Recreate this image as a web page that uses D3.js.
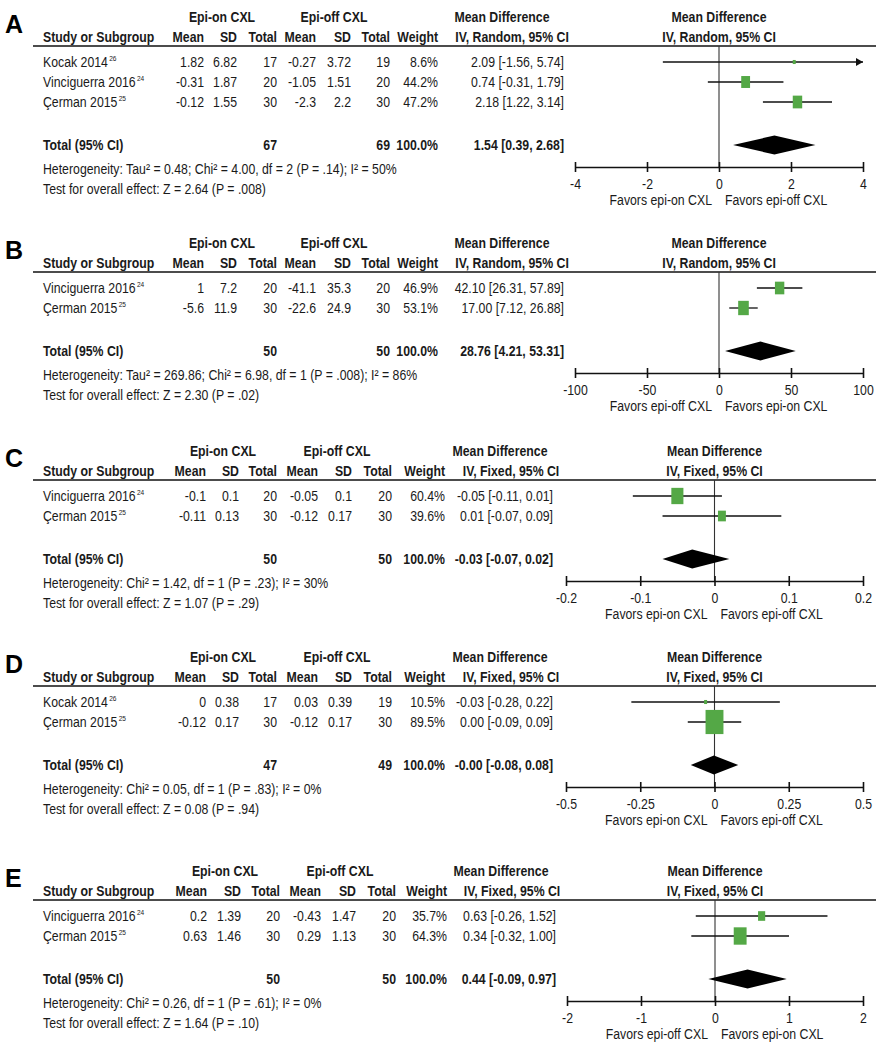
<!DOCTYPE html>
<html><head><meta charset="utf-8">
<script src="https://cdn.jsdelivr.net/npm/d3@7"></script>
<style>
body{margin:0;background:#fff}
svg text{font-family:"Liberation Sans",Arial,sans-serif;font-size:15px;fill:#1a1a1a}
svg text.letter{font-family:"Liberation Sans",Arial,sans-serif;font-size:25px;font-weight:bold;fill:#000}
</style></head><body><svg id="c" width="880" height="1050"></svg>
<script>
// ---------- DATA ----------
const panelLetters = ["A","B","C","D","E"];
const models = ["IV, Random, 95% CI","IV, Random, 95% CI","IV, Fixed, 95% CI","IV, Fixed, 95% CI","IV, Fixed, 95% CI"];

// Panel A
const studiesA = ["Kocak 2014","Vinciguerra 2016","Çerman 2015"];
const refsA = ["26","24","25"];
const onMeanA = [1.82,-0.31,-0.12], onSDA = [6.82,1.87,1.55], onNA = [17,20,30];
const offMeanA = [-0.27,-1.05,-2.3], offSDA = [3.72,1.51,2.2], offNA = [19,20,30];
const weightA = [8.6,44.2,47.2];
const mdA = [2.09,0.74,2.18], loA = [-1.56,-0.31,1.22], hiA = [5.74,1.79,3.14];
const totalA = [67,69,1.54,0.39,2.68];
const hetA = "Heterogeneity: Tau² = 0.48; Chi² = 4.00, df = 2 (P = .14); I² = 50%";
const testA = "Test for overall effect: Z = 2.64 (P = .008)";
const ticksA = [-4,-2,0,2,4];
const favorsA = ["Favors epi-on CXL","Favors epi-off CXL"];

// Panel B
const studiesB = ["Vinciguerra 2016","Çerman 2015"];
const refsB = ["24","25"];
const onMeanB = [1,-5.6], onSDB = [7.2,11.9], onNB = [20,30];
const offMeanB = [-41.1,-22.6], offSDB = [35.3,24.9], offNB = [20,30];
const weightB = [46.9,53.1];
const mdB = [42.10,17.00], loB = [26.31,7.12], hiB = [57.89,26.88];
const totalB = [50,50,28.76,4.21,53.31];
const hetB = "Heterogeneity: Tau² = 269.86; Chi² = 6.98, df = 1 (P = .008); I² = 86%";
const testB = "Test for overall effect: Z = 2.30 (P = .02)";
const ticksB = [-100,-50,0,50,100];
const favorsB = ["Favors epi-off CXL","Favors epi-on CXL"];

// Panel C
const studiesC = ["Vinciguerra 2016","Çerman 2015"];
const refsC = ["24","25"];
const onMeanC = [-0.1,-0.11], onSDC = [0.1,0.13], onNC = [20,30];
const offMeanC = [-0.05,-0.12], offSDC = [0.1,0.17], offNC = [20,30];
const weightC = [60.4,39.6];
const mdC = [-0.05,0.01], loC = [-0.11,-0.07], hiC = [0.01,0.09];
const totalC = [50,50,-0.03,-0.07,0.02];
const hetC = "Heterogeneity: Chi² = 1.42, df = 1 (P = .23); I² = 30%";
const testC = "Test for overall effect: Z = 1.07 (P = .29)";
const ticksC = [-0.2,-0.1,0,0.1,0.2];
const favorsC = ["Favors epi-on CXL","Favors epi-off CXL"];

// Panel D
const studiesD = ["Kocak 2014","Çerman 2015"];
const refsD = ["26","25"];
const onMeanD = [0,-0.12], onSDD = [0.38,0.17], onND = [17,30];
const offMeanD = [0.03,-0.12], offSDD = [0.39,0.17], offND = [19,30];
const weightD = [10.5,89.5];
const mdD = [-0.03,0.00], loD = [-0.28,-0.09], hiD = [0.22,0.09];
const totalD = [47,49,-0.002,-0.08,0.08]; // printed as -0.00
const hetD = "Heterogeneity: Chi² = 0.05, df = 1 (P = .83); I² = 0%";
const testD = "Test for overall effect: Z = 0.08 (P = .94)";
const ticksD = [-0.5,-0.25,0,0.25,0.5];
const favorsD = ["Favors epi-on CXL","Favors epi-off CXL"];

// Panel E
const studiesE = ["Vinciguerra 2016","Çerman 2015"];
const refsE = ["24","25"];
const onMeanE = [0.2,0.63], onSDE = [1.39,1.46], onNE = [20,30];
const offMeanE = [-0.43,0.29], offSDE = [1.47,1.13], offNE = [20,30];
const weightE = [35.7,64.3];
const mdE = [0.63,0.34], loE = [-0.26,-0.32], hiE = [1.52,1.00];
const totalE = [50,50,0.44,-0.09,0.97];
const hetE = "Heterogeneity: Chi² = 0.26, df = 1 (P = .61); I² = 0%";
const testE = "Test for overall effect: Z = 1.64 (P = .10)";
const ticksE = [-2,-1,0,1,2];
const favorsE = ["Favors epi-off CXL","Favors epi-on CXL"];

// ---------- LAYOUT ----------
const colsAB = {onMean:204,onSD:237,onN:277,offMean:316,offSD:351,offN:390,weight:438,ci:564,hOn:222,hOff:334,hMD:502,hIV:512,plot:[575,863]};
const colsCD = {onMean:206,onSD:239,onN:277,offMean:318,offSD:352,offN:392,weight:445,ci:553,hOn:223,hOff:337,hMD:500,hIV:511,plot:[566,863]};
const colsE  = {onMean:207,onSD:241,onN:280,offMean:321,offSD:356,offN:396,weight:447,ci:556,hOn:225,hOff:340,hMD:501,hIV:512,plot:[567,863]};

const panels = [
  {top:0,   cols:colsAB, st:studiesA, rf:refsA, om:onMeanA, os:onSDA, on:onNA, fm:offMeanA, fs:offSDA, fn:offNA, w:weightA, md:mdA, lo:loA, hi:hiA, tot:totalA, het:hetA, test:testA, ticks:ticksA, fav:favorsA},
  {top:226, cols:colsAB, st:studiesB, rf:refsB, om:onMeanB, os:onSDB, on:onNB, fm:offMeanB, fs:offSDB, fn:offNB, w:weightB, md:mdB, lo:loB, hi:hiB, tot:totalB, het:hetB, test:testB, ticks:ticksB, fav:favorsB},
  {top:434, cols:colsCD, st:studiesC, rf:refsC, om:onMeanC, os:onSDC, on:onNC, fm:offMeanC, fs:offSDC, fn:offNC, w:weightC, md:mdC, lo:loC, hi:hiC, tot:totalC, het:hetC, test:testC, ticks:ticksC, fav:favorsC},
  {top:640, cols:colsCD, st:studiesD, rf:refsD, om:onMeanD, os:onSDD, on:onND, fm:offMeanD, fs:offSDD, fn:offND, w:weightD, md:mdD, lo:loD, hi:hiD, tot:totalD, het:hetD, test:testD, ticks:ticksD, fav:favorsD},
  {top:854, cols:colsE,  st:studiesE, rf:refsE, om:onMeanE, os:onSDE, on:onNE, fm:offMeanE, fs:offSDE, fn:offNE, w:weightE, md:mdE, lo:loE, hi:hiE, tot:totalE, het:hetE, test:testE, ticks:ticksE, fav:favorsE}
];

const svg = d3.select("#c");
const green = "#54a846";
const NARROW = 0.82; // emulate Arial Narrow with horizontally condensed Liberation Sans
const sideScale = d3.scaleLinear().domain([0,100]).range([0,20]);
const f2 = v => v.toFixed(2);
const ciText = (m,l,h) => `${f2(m)} [${f2(l)}, ${f2(h)}]`;

panels.forEach((p,pi) => {
  const g = svg.append("g").attr("transform",`translate(0,${p.top})`);
  const c = p.cols;
  const n = p.st.length;
  const rowY = i => 62 + 20*i;
  const totY = rowY(n-1) + 43;
  const axisY = totY + 22;
  const x = d3.scaleLinear().domain([p.ticks[0], p.ticks[p.ticks.length-1]]).range(c.plot);
  const mid = (c.plot[0]+c.plot[1])/2;

  const T = (xx,yy,txt,anchor,bold) => g.append("text")
      .attr("transform",`translate(${xx},${yy}) scale(${NARROW},1)`)
      .attr("text-anchor",anchor||"start").attr("font-weight",bold?"bold":null).text(txt);

  // letter
  g.append("text").attr("class","letter").attr("x",5).attr("y",33).text(panelLetters[pi]);

  // header row 1
  T(c.hOn,22,"Epi-on CXL","middle",true);
  T(c.hOff,22,"Epi-off CXL","middle",true);
  T(c.hMD,22,"Mean Difference","middle",true);
  T(mid,22,"Mean Difference","middle",true);
  // header row 2
  T(43,42,"Study or Subgroup","start",true);
  [["Mean",c.onMean],["SD",c.onSD],["Total",c.onN],["Mean",c.offMean],["SD",c.offSD],["Total",c.offN],["Weight",c.weight]]
    .forEach(([t,xx]) => T(xx,42,t,"end",true));
  T(c.hIV,42,models[pi],"middle",true);
  T(mid,42,models[pi],"middle",true);
  g.append("line").attr("x1",33).attr("x2",876).attr("y1",46).attr("y2",46)
    .attr("stroke","#111").attr("stroke-width",1.6);

  // zero line
  g.append("line").attr("x1",x(0)).attr("x2",x(0)).attr("y1",46).attr("y2",axisY)
    .attr("stroke","#333").attr("stroke-width",1.1);

  // study rows
  for (let i=0;i<n;i++){
    const yb = rowY(i)+5;
    const t = T(43,yb,p.st[i]);
    t.append("tspan").attr("font-size","8px").attr("dy",-6).attr("dx",1.5).text(p.rf[i]);
    T(c.onMean,yb,String(p.om[i]),"end");
    T(c.onSD,yb,String(p.os[i]),"end");
    T(c.onN,yb,String(p.on[i]),"end");
    T(c.offMean,yb,String(p.fm[i]),"end");
    T(c.offSD,yb,String(p.fs[i]),"end");
    T(c.offN,yb,String(p.fn[i]),"end");
    T(c.weight,yb,p.w[i].toFixed(1)+"%","end");
    T(c.ci,yb,ciText(p.md[i],p.lo[i],p.hi[i]),"end");

    // CI line
    const [dmin,dmax] = x.domain();
    const x1 = x(Math.max(p.lo[i],dmin)), x2 = x(Math.min(p.hi[i],dmax));
    const cy = rowY(i);
    g.append("line").attr("x1",x1).attr("x2",x2).attr("y1",cy).attr("y2",cy)
      .attr("stroke","#111").attr("stroke-width",1.3);
    if (p.hi[i] > dmax){
      g.append("path").attr("d",`M${x2-7},${cy-4} L${x2},${cy} L${x2-7},${cy+4} Z`).attr("fill","#111");
    }
    if (p.lo[i] < dmin){
      g.append("path").attr("d",`M${x1+7},${cy-4} L${x1},${cy} L${x1+7},${cy+4} Z`).attr("fill","#111");
    }
    const s = Math.max(3, sideScale(p.w[i]));
    const h = s*1.35;
    g.append("rect").attr("x",x(p.md[i])-s/2).attr("y",cy-h/2).attr("width",s).attr("height",h)
      .attr("fill",green);
  }

  // total row
  const tb = totY+5;
  T(43,tb,"Total (95% CI)","start",true);
  T(c.onN,tb,String(p.tot[0]),"end",true);
  T(c.offN,tb,String(p.tot[1]),"end",true);
  T(c.weight,tb,"100.0%","end",true);
  T(c.ci,tb,ciText(p.tot[2],p.tot[3],p.tot[4]),"end",true);
  const dh = 9.5;
  g.append("path").attr("d",
    `M${x(p.tot[3])},${totY} L${x(p.tot[2])},${totY-dh} L${x(p.tot[4])},${totY} L${x(p.tot[2])},${totY+dh} Z`)
    .attr("fill","#000");

  // heterogeneity / test
  T(43,totY+29,p.het);
  T(43,totY+49,p.test);

  // axis
  const ax = d3.axisBottom(x).tickValues(p.ticks).tickFormat(d=>String(d)).tickSize(5).tickSizeOuter(0).tickPadding(6);
  const ag = g.append("g").attr("transform",`translate(0,${axisY})`).call(ax);
  ag.attr("font-size",null).attr("font-family",null);
  ag.select(".domain").attr("stroke","#111").attr("stroke-width",1.6);
  ag.selectAll(".tick line").attr("y1",-5).attr("y2",5).attr("stroke","#111").attr("stroke-width",1.6);
  ag.selectAll(".tick text").attr("fill","#1a1a1a").attr("transform",`scale(${NARROW},1)`);

  // favors labels
  T(x(0)-7,axisY+38,p.fav[0],"end");
  T(x(0)+6,axisY+38,p.fav[1],"start");
});
</script></body></html>
